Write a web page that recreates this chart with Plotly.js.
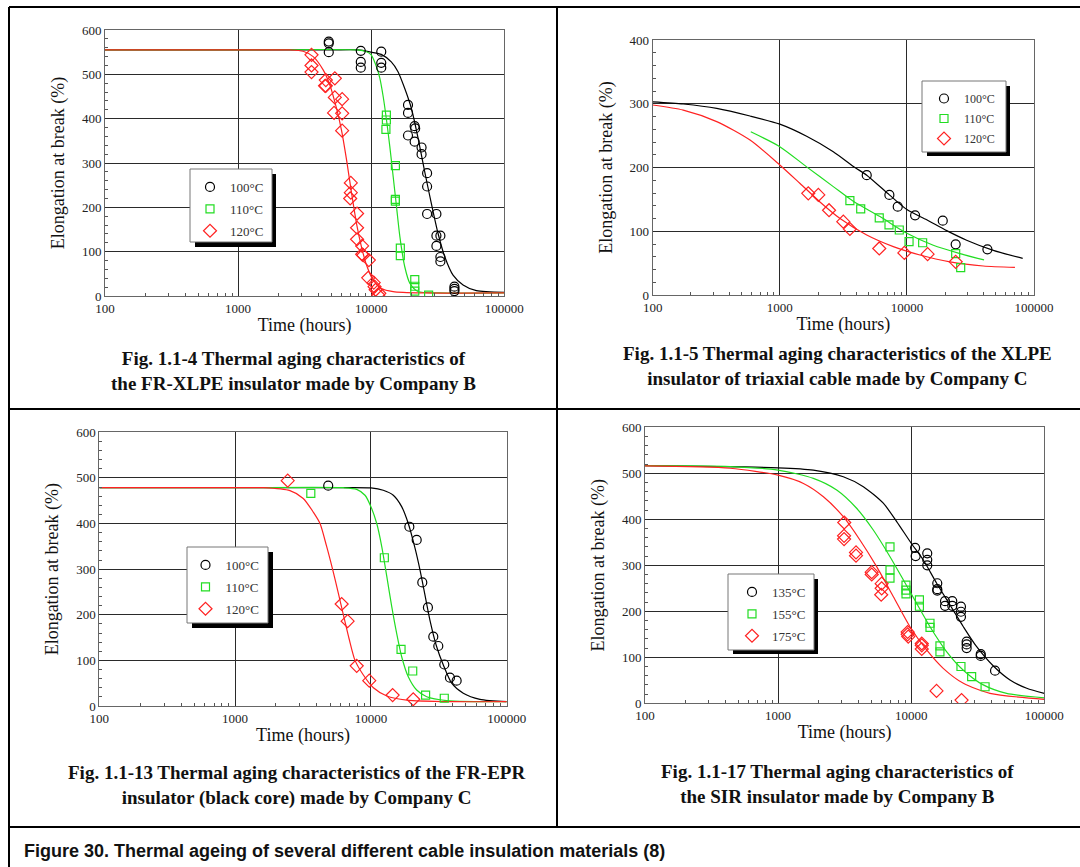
<!DOCTYPE html>
<html><head><meta charset="utf-8">
<script src="https://cdn.plot.ly/plotly-3.0.1.min.js"></script>
<style>html,body{margin:0;padding:0;background:#fff}#chart{width:1080px;height:867px}</style>
</head><body><div id="chart"></div>
<script>
// ---------- axis ticks ----------
const timeTicks = [100, 1000, 10000, 100000];
const timeTickText = ['100', '1000', '10000', '100000'];
const timeMinorTicks = [200,300,400,500,600,700,800,900,2000,3000,4000,5000,6000,7000,8000,9000,20000,30000,40000,50000,60000,70000,80000,90000];

// ---------- Fig. 1.1-4 FR-XLPE, Company B ----------
const f4_names = ['100°C', '110°C', '120°C'];
const f4_100_x = [4800,4800,4800,8350,8350,8350,11900,11900,11900,18900,18900,18900,21200,21400,21200,23900,23900,26300,26300,26300,30900,30900,33100,30900,33100,33100,42200,42200,42200];
const f4_100_y = [574,570,550,553,528,515,551,526,515,431,413,362,383,378,348,335,320,277,247,185,185,136,136,113,88,78,21,16,11];
const f4_110_x = [13000,13000,12900,15200,15200,15200,16550,16550,21250,21250,21250,27000];
const f4_110_y = [408,397,376,294,218,214,108,91,37,22,11,2];
const f4_120_x = [3560,3560,3560,4560,4500,4560,5330,5330,6050,5260,6050,6050,7030,7030,6950,7830,7830,7830,8550,8550,8700,9600,9500,10450,10600,10800,11500,11300];
const f4_120_y = [544,520,505,487,474,474,491,448,444,413,412,373,255,233,220,186,154,128,113,94,92,81,41,30,21,14,6,2];
const f4_fit100_x = [100,1000,5000,8000,10000,11900,14150,15900,17870,20050,22500,25250,28300,31800,35650,41200,49000,61700,100000];
const f4_fit100_y = [555,555,555,555,550,545,528,506,468,423,356,280,209,141,89,47,25,12,8];
const f4_fit110_x = [100,1000,7740,9220,10000,10960,11620,12300,13030,13800,14630,15500,16420,17870,19500,22500,32700,100000];
const f4_fit110_y = [555,555,555,551,544,517,491,450,397,337,269,201,134,66,29,10,7,7];
const f4_fit120_x = [100,1000,2450,3080,3665,4355,4890,5490,5980,6530,7120,7750,8450,9220,10350,11950,14630,24550,100000];
const f4_fit120_y = [555,555,555,552,540,510,476,423,374,307,232,164,111,70,36,17,10,7,7];

// ---------- Fig. 1.1-5 XLPE triaxial, Company C ----------
const f5_names = ['100°C', '110°C', '120°C'];
const f5_100_x = [4830,7280,8470,11600,19150,24200,43000];
const f5_100_y = [188,157,138.5,125,116.6,79.5,71.7];
const f5_110_x = [3560,4330,6060,7230,8710,10400,13300,24200,26500];
const f5_110_y = [148,135,121,110,102,83.6,82,65,43];
const f5_120_x = [1675,2010,2440,3160,3560,6060,9550,14550,24200];
const f5_120_y = [159.5,157,133,115,103.5,73,66,64,52];
const f5_fit100_x = [100,174,319,583,1000,1626,2636,3900,4830,7280,10000,14320,20560,29500,47860,81470];
const f5_fit100_y = [303,299.6,292.8,280.8,268,249,224.8,200,188,157,134,118,101,86,70,57.5];
const f5_fit110_x = [591,1000,1626,2636,3787,6140,10000,16130,26180,40460];
const f5_fit110_y = [256,232.7,201,170,147,123,96.8,78,65,55];
const f5_fit120_x = [100,174,319,583,1000,1443,2070,2980,4830,7820,12670,21820,39900,70800];
const f5_fit120_y = [298,290,272,243,204,175,146,120,94,75.8,62.7,52,45.5,43.4];

// ---------- Fig. 1.1-13 FR-EPR (black core), Company C ----------
const f13_names = ['100°C', '110°C', '120°C'];
const f13_100_x = [4850,19190,21740,23900,26300,28800,31350,34700,38200,42800];
const f13_100_y = [483,393,364,271,216,152,131.5,91,62,55.5];
const f13_110_x = [3610,12560,16670,20320,25280,34700];
const f13_110_y = [466,325,124,76.7,24,17];
const f13_120_x = [2440,6090,6740,7860,9730,14450,20500];
const f13_120_y = [494,223.6,186,88,55.5,24,14.7];
const f13_fit100_x = [100,1000,5000,10000,12330,14620,16850,18850,21130,23000,25020,27200,30500,34150,39330,47900,63500,100000];
const f13_fit100_y = [478.5,478.5,478.5,478,473,462,437,400,346,298,243,188.5,130,90,50,28,14.7,9.5];
const f13_fit110_x = [100,1000,6270,7860,9050,10000,11040,12030,13100,14240,15480,16850,18850,21720,25760,36100,100000];
const f13_fit110_y = [478.5,478.5,478.5,475,462,437,400,349,283.5,217.7,159,108,64,35,20.4,12,9.5];
const f13_fit120_x = [100,1000,1614,2535,3175,3766,4220,4700,5220,5750,6270,6900,7640,8800,10430,13100,18370,40000,100000];
const f13_fit120_y = [478.5,478.5,478.5,472,455,425,400,352,300,248,200,148,100,68,40,22,13,9.5,9.5];

// ---------- Fig. 1.1-17 SIR, Company B ----------
const f17_names = ['135°C', '155°C', '175°C'];
const f17_135_x = [10700,10800,13200,13200,13200,15700,15700,15700,17950,17950,20350,20350,23650,23650,23650,26100,26100,26100,33300,33300,42650];
const f17_135_y = [338,320,326,312,300,261,248,245,222,212,222,212,210,199,188,134,128,120,107,103,71];
const f17_155_x = [6930,6930,6930,9140,9140,9140,11530,11530,13840,13840,16440,16440,23650,28450,35900];
const f17_155_y = [340,290,272,257,246,238,225,211,174,165,125,112,80,58,36];
const f17_175_x = [3140,3130,3130,3850,3850,5050,5050,6000,6000,5950,9400,9400,9500,12000,12000,12000,15500,23900];
const f17_175_y = [393,364,357,328,321,285,280,260,250,236,155,150,145,130,126,118,27,7];
const f17_fit135_x = [100,1000,1840,3090,4370,6170,7780,10000,12330,15530,19570,24650,31030,41430,55260,73800,100000];
const f17_fit135_y = [516.5,512,507,492.6,471,435,395,348,311.5,261,213.7,166.5,123,81,50.6,32.6,21.7];
const f17_fit155_x = [100,436,1000,1840,2755,3890,5190,6930,8740,11000,13840,18490,24650,34800,52100,100000];
const f17_fit155_y = [516.5,514.7,507,489,463.7,424,376.7,318.7,268,217,166.5,112,72,40,21.7,12];
const f17_fit175_x = [100,436,1000,1550,2190,3090,4120,5500,7350,9790,13060,17400,24650,39080,100000];
const f17_fit175_y = [516,511,496,478,449,405.6,355,297,231.7,166.5,116,76,43.5,21.7,8.7];

// ---------- text ----------
const yTitle = 'Elongation at break (%)';
const xTitle = 'Time (hours)';
const captions = [
  'Fig. 1.1-4 Thermal aging characteristics of<br>the FR-XLPE insulator made by Company B',
  'Fig. 1.1-5 Thermal aging characteristics of the XLPE<br>insulator of triaxial cable made by Company C',
  'Fig. 1.1-13 Thermal aging characteristics of the FR-EPR<br>insulator (black core) made by Company C',
  'Fig. 1.1-17 Thermal aging characteristics of<br>the SIR insulator made by Company B'
];
const footer = 'Figure 30. Thermal ageing of several different cable insulation materials (8)';

// ---------- styling ----------
const W = 1080, H = 867;
const px = v => v / W;
const py = v => 1 - v / H;
const SERIF = 'Liberation Serif, Times New Roman, serif';
const COLORS = ['#000000', '#22dd22', '#ff2222'];
const SYMBOLS = ['circle-open', 'square-open', 'diamond-open'];
const SIZES = [9, 8, 10];

const traces = [];
function addPanel(n, names, pts, fits, legendId) {
  const xa = n === 1 ? 'x' : 'x' + n, ya = n === 1 ? 'y' : 'y' + n;
  fits.forEach((f, i) => {
    traces.push({x: f[0], y: f[1], xaxis: xa, yaxis: ya, mode: 'lines', showlegend: false,
      line: {color: COLORS[i], width: 1.2, shape: 'spline', smoothing: 0.7}, hoverinfo: 'skip'});
  });
  pts.forEach((p, i) => {
    traces.push({x: p[0], y: p[1], xaxis: xa, yaxis: ya, mode: 'markers', name: names[i],
      legend: legendId, legendgroup: legendId + '_' + i,
      marker: {symbol: SYMBOLS[i], size: SIZES[i], color: COLORS[i], line: {width: 1.2, color: COLORS[i]}}});
  });
}
addPanel(1, f4_names, [[f4_100_x,f4_100_y],[f4_110_x,f4_110_y],[f4_120_x,f4_120_y]],
  [[f4_fit100_x,f4_fit100_y],[f4_fit110_x,f4_fit110_y],[f4_fit120_x,f4_fit120_y]], 'legend');
addPanel(2, f5_names, [[f5_100_x,f5_100_y],[f5_110_x,f5_110_y],[f5_120_x,f5_120_y]],
  [[f5_fit100_x,f5_fit100_y],[f5_fit110_x,f5_fit110_y],[f5_fit120_x,f5_fit120_y]], 'legend2');
addPanel(3, f13_names, [[f13_100_x,f13_100_y],[f13_110_x,f13_110_y],[f13_120_x,f13_120_y]],
  [[f13_fit100_x,f13_fit100_y],[f13_fit110_x,f13_fit110_y],[f13_fit120_x,f13_fit120_y]], 'legend3');
addPanel(4, f17_names, [[f17_135_x,f17_135_y],[f17_155_x,f17_155_y],[f17_175_x,f17_175_y]],
  [[f17_fit135_x,f17_fit135_y],[f17_fit155_x,f17_fit155_y],[f17_fit175_x,f17_fit175_y]], 'legend4');

const tickFont = {family: SERIF, size: 13, color: '#222'};
const titleFont = {family: SERIF, size: 18, color: '#111'};
function xAxis(domain, anchor) {
  return {type: 'log', range: [2, 5], domain: domain, anchor: anchor, automargin: false,
    tickmode: 'array', tickvals: timeTicks, ticktext: timeTickText, ticks: '',
    showgrid: true, gridcolor: '#2a2a2a', gridwidth: 1, zeroline: false,
    showline: true, linecolor: '#666', linewidth: 1, mirror: true,
    minor: {tickmode: 'array', tickvals: timeMinorTicks, ticks: 'inside', ticklen: 3, tickcolor: '#555', showgrid: false},
    tickfont: tickFont, title: {text: xTitle, font: titleFont, standoff: 3}};
}
function yAxis(domain, anchor, max) {
  return {range: [0, max], domain: domain, anchor: anchor, automargin: false,
    dtick: 100, ticks: '', showgrid: true, gridcolor: '#2a2a2a', gridwidth: 1, zeroline: false,
    showline: true, linecolor: '#666', linewidth: 1, mirror: true,
    minor: {dtick: 20, ticks: 'inside', ticklen: 3, tickcolor: '#555', showgrid: false},
    tickfont: tickFont, title: {text: yTitle, font: titleFont, standoff: 12}};
}

function legendBox(x0, y0, x1, y1, sx, sy) {
  return [
    {type: 'rect', xref: 'paper', yref: 'paper', x0: px(x0 + 5), x1: px(sx), y0: py(y0 + 5), y1: py(sy),
      fillcolor: '#000', line: {width: 0}, layer: 'above'},
    {type: 'rect', xref: 'paper', yref: 'paper', x0: px(x0), x1: px(x1), y0: py(y0), y1: py(y1),
      fillcolor: '#fff', line: {color: '#777', width: 1}, layer: 'above'}
  ];
}
function legendCfg(x, y, gap, size) {
  return {x: px(x), y: py(y), xanchor: 'left', yanchor: 'top', bgcolor: 'rgba(0,0,0,0)', borderwidth: 0,
    font: {family: SERIF, size: size, color: '#333'}, tracegroupgap: gap, itemclick: false, itemdoubleclick: false};
}
function bline(x0, y0, x1, y1) {
  return {type: 'line', xref: 'paper', yref: 'paper', x0: px(x0), y0: py(y0), x1: px(x1), y1: py(y1),
    line: {color: '#000', width: 2}, layer: 'above'};
}
function caption(text, x, y) {
  return {text: '<b>' + text + '</b>', xref: 'paper', yref: 'paper', x: px(x), y: py(y),
    xanchor: 'center', yanchor: 'top', showarrow: false, align: 'center',
    font: {family: SERIF, size: 19, color: '#111'}};
}

const layout = {
  width: W, height: H, margin: {l: 0, r: 0, t: 0, b: 0},
  paper_bgcolor: '#fff', plot_bgcolor: '#fff', showlegend: true,
  xaxis: xAxis([px(105), px(504.3)], 'y'),
  yaxis: yAxis([py(296), py(30)], 'x', 600),
  xaxis2: xAxis([px(652.7), px(1034)], 'y2'),
  yaxis2: yAxis([py(295), py(40)], 'x2', 400),
  xaxis3: xAxis([px(99.3), px(506.7)], 'y3'),
  yaxis3: yAxis([py(706), py(432.3)], 'x3', 600),
  xaxis4: xAxis([px(645), px(1044.3)], 'y4'),
  yaxis4: yAxis([py(703.3), py(427.3)], 'x4', 600),
  legend: legendCfg(190, 172, 2, 13),
  legend2: legendCfg(924, 84, 1, 12),
  legend3: legendCfg(185.5, 550, 2, 13),
  legend4: legendCfg(732, 577, 2, 13),
  shapes: [].concat(
    legendBox(190, 169, 272, 242, 276, 247),
    legendBox(922, 81, 1006, 152, 1010, 156),
    legendBox(187, 547, 268, 623, 273, 628),
    legendBox(728, 574, 814, 650, 818, 654),
    [bline(9, 7, 1080, 7), bline(9, 7, 9, 867), bline(557, 7, 557, 827),
     bline(9, 409, 1080, 409), bline(9, 827, 1080, 827)]
  ),
  annotations: [
    caption(captions[0], 293, 346),
    caption(captions[1], 837, 341),
    caption(captions[2], 296, 760),
    caption(captions[3], 837, 759),
    {text: '<b>' + footer + '</b>', xref: 'paper', yref: 'paper', x: px(22), y: py(851),
      xanchor: 'left', yanchor: 'middle', showarrow: false,
      font: {family: 'Liberation Sans, Arial, sans-serif', size: 18, color: '#111'}}
  ]
};
Plotly.newPlot('chart', traces, layout, {staticPlot: true});
</script></body></html>
